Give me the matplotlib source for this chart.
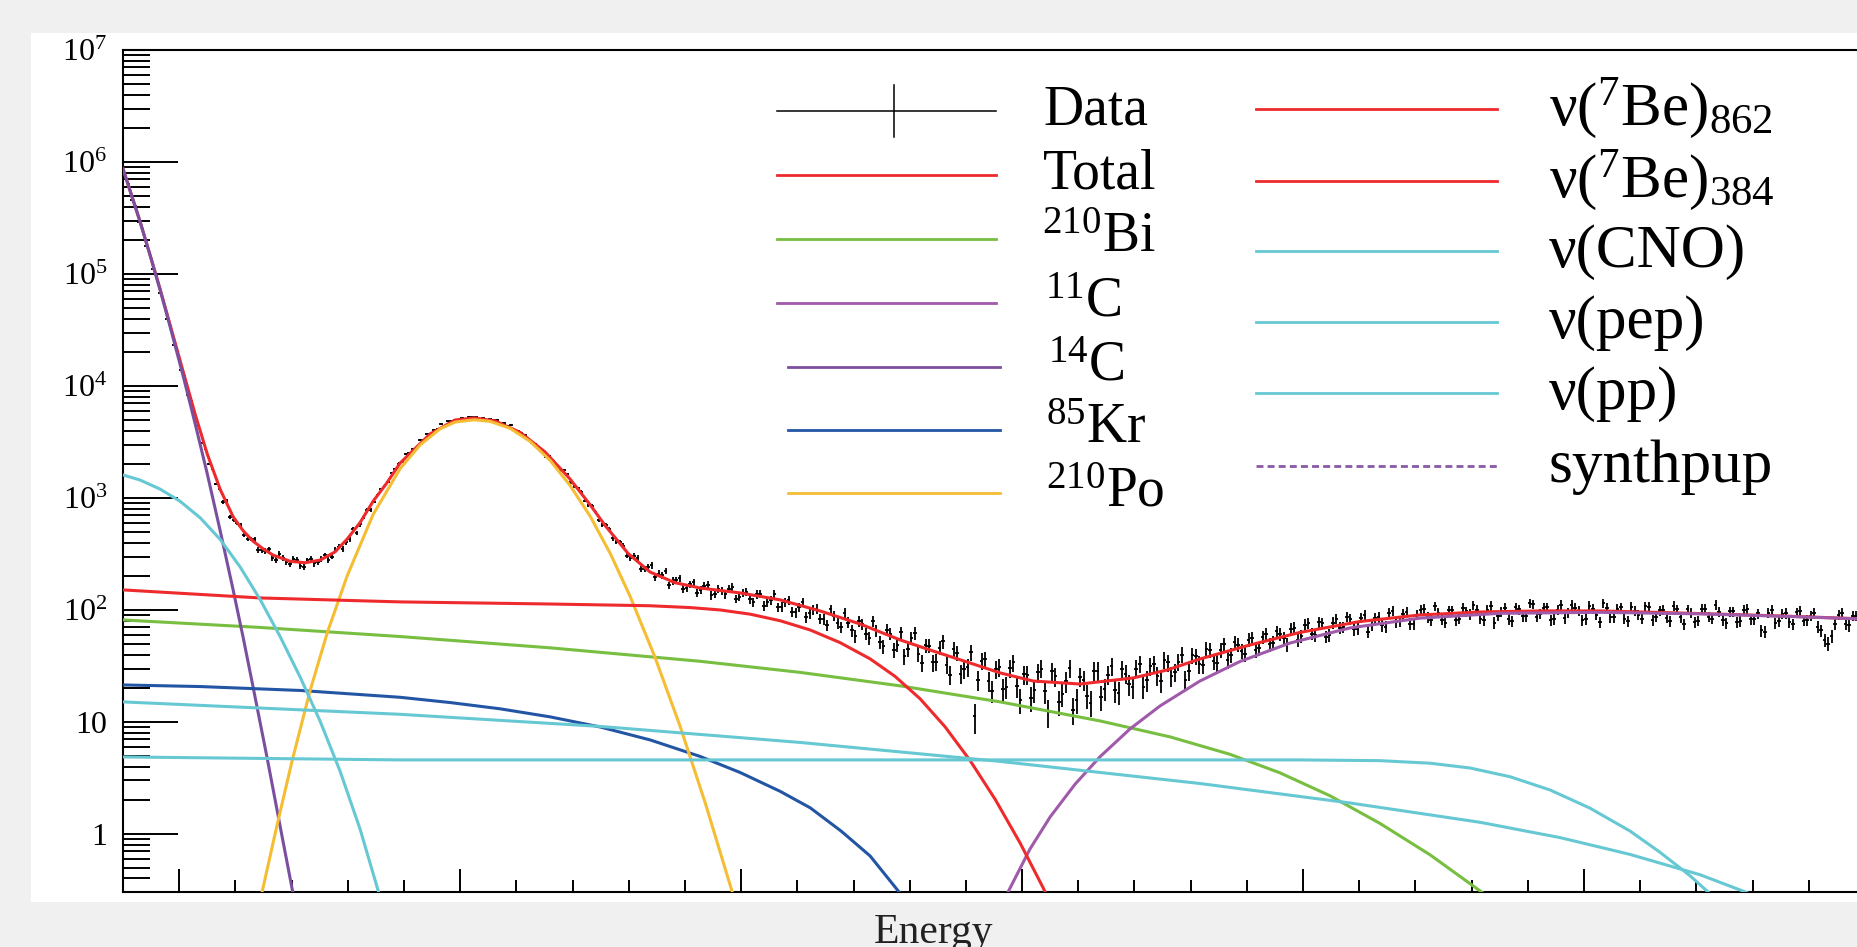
import numpy as np
import matplotlib
matplotlib.use("Agg")
import matplotlib.pyplot as plt
from matplotlib.patches import Rectangle
from matplotlib.ticker import FixedLocator, FixedFormatter, LogLocator, NullFormatter, MultipleLocator

plt.rcParams['font.family'] = ['Liberation Serif', 'DejaVu Serif']
plt.rcParams['mathtext.fontset'] = 'custom'
plt.rcParams['mathtext.rm'] = 'Liberation Serif'
plt.rcParams['mathtext.it'] = 'Liberation Serif:italic'
plt.rcParams['mathtext.bf'] = 'Liberation Serif:bold'
plt.rcParams['mathtext.default'] = 'regular'

W, H = 1858, 947

# ---------------- data ----------------
# histogram counts, bins of width 1.25 starting at 80; even and odd bins kept apart
bin_width = 1.25
counts_even_bins = [
    7.35e5, 4.58e5, 2.91e5, 1.79e5, 1.10e5, 6.76e4, 3.97e4, 2.34e4, 1.39e4, 8350,
    5040, 3120, 2000, 1330, 921, 677, 598, 468, 430, 343,
    336, 291, 316, 268, 285, 247, 277, 260, 285, 279,
    343, 351, 426, 487, 677, 781, 1070, 1280, 1680, 2030,
    2450, 2740, 3300, 3760, 4050, 4580, 4820, 4950, 5200, 5290,
    5230, 5150, 5050, 4980, 4670, 4490, 3960, 3650, 3080, 2770,
    2320, 2150, 1760, 1640, 1270, 1140, 861, 756, 574, 529,
    406, 375, 291, 292, 234, 250, 211, 224, 182, 191,
    158, 176, 152, 168, 139, 147, 153, 126, 142, 124,
    138, 109, 122, 106, 118, 95.6, 106, 85.7, 101, 83.4,
    73.0, 88.9, 70.2, 77.2, 58.5, 74.4, 56.6, 64.9, 47.4, 61.6,
    48.8, 38.8, 56.1, 40.3, 48.4, 34.0, 46.0, 32.3, 44.6, 27.0,
    31.0, 11.2, 35.3, 23.3, 29.6, 19.6, 30.4, 21.1, 26.7, 16.4,
    27.7, 18.9, 28.3, 15.1, 23.1, 12.9, 25.4, 17.1, 28.6, 16.7,
    26.3, 19.3, 29.6, 21.8, 29.9, 20.5, 31.4, 25.9, 35.8, 25.8,
    34.4, 23.8, 39.3, 32.7, 44.6, 34.9, 43.9, 35.8, 51.9, 43.2,
    54.3, 44.0, 57.3, 49.4, 64.4, 55.6, 68.1, 54.0, 73.6, 61.3,
    78.5, 57.8, 77.0, 69.6, 87.3, 67.0, 85.5, 63.8, 84.5, 72.7,
    94.4, 78.0, 91.4, 75.5, 90.2, 103, 80.9, 94.0, 77.2, 99.4,
    83.3, 97.0, 110, 83.3, 100, 77.0, 96.8, 82.2, 106, 88.1,
    115, 86.6, 104, 81.4, 100, 84.8, 111, 98.0, 83.1, 102,
    78.2, 104, 86.1, 106, 78.9, 98.8, 83.6, 107, 86.6, 99.8,
    79.4, 101, 74.3, 94.8, 80.2, 102, 83.3, 95.8, 76.1, 97.0,
    80.1, 102, 82.8, 65.6, 94.6, 76.5, 91.9, 77.6, 95.0, 80.2,
    88.6, 70.5, 53.8, 58.1, 90.9, 75.3, 88.6, 76.6]
counts_odd_bins = [
    6.30e5, 4.01e5, 2.52e5, 1.54e5, 9.54e4, 5.79e4, 3.43e4, 2.05e4, 1.22e4, 7310,
    4430, 2750, 1820, 1208, 940, 630, 568, 434, 427, 344,
    347, 278, 293, 256, 279, 244, 287, 266, 307, 300,
    367, 403, 525, 580, 778, 923, 1194, 1399, 1804, 2092,
    2501, 2767, 3260, 3674, 4140, 4305, 4870, 4910, 5083, 5265,
    5094, 4890, 4990, 4520, 4410, 3965, 3811, 3268, 3048, 2554,
    2356, 1896, 1760, 1380, 1218, 948, 850, 630, 573, 435,
    405, 306, 305, 234, 244, 196, 204, 166, 185, 155,
    170, 143, 165, 135, 153, 138, 160, 131, 144, 117,
    140, 118, 139, 107, 122, 95.2, 117, 93.5, 102, 82.4,
    101, 76.5, 93.6, 65.6, 80.1, 61.5, 79.1, 51.6, 66.3, 44.1,
    63.0, 45.0, 62.1, 33.9, 47.8, 34.2, 52.3, 26.4, 41.3, 29.5,
    41.7, 23.7, 36.3, 19.0, 31.0, 20.7, 34.0, 15.7, 26.4, 19.3,
    30.0, 12.3, 25.5, 17.8, 30.1, 15.8, 23.9, 14.9, 28.6, 19.7,
    31.4, 18.3, 27.0, 20.6, 32.8, 23.5, 33.0, 23.1, 34.0, 27.9,
    39.9, 28.3, 38.8, 32.4, 44.0, 33.7, 49.7, 39.6, 48.7, 40.4,
    56.0, 45.4, 61.4, 50.9, 60.8, 49.3, 69.6, 58.6, 76.8, 59.2,
    76.2, 59.9, 83.8, 70.1, 83.1, 68.1, 90.4, 73.3, 85.9, 71.1,
    98.4, 79.6, 95.4, 74.2, 100, 85.7, 108, 81.7, 99.0, 81.3,
    105, 91.4, 99.8, 81.6, 109, 88.9, 105, 79.1, 101, 88.1,
    113, 92.1, 106, 83.1, 111, 94.0, 104, 81.4, 109, 90.2,
    115, 86.1, 103, 83.6, 107, 90.2, 108, 80.7, 99.0, 85.3,
    109, 86.4, 101, 77.3, 103, 86.8, 111, 80.9, 97.0, 78.5,
    100, 82.8, 93.3, 64.1, 100, 79.8, 93.5, 74.2, 98.4, 81.4,
    93.5, 65.6, 49.9, 75.0, 93.5, 72.7, 88.9, 76.5]
data_counts = np.column_stack([counts_even_bins, counts_odd_bins]).ravel()
data_energy = 80 + bin_width / 2 + bin_width * np.arange(len(data_counts))

total_energy = [80, 86.1, 89.7, 93.2, 96.8, 101.4, 105.7, 110.0, 114.6, 119.2,
                122.8, 126.3, 129.9, 133.5, 139.5, 144.8, 150.2, 155.5, 159.8, 164.4,
                169.0, 173.7, 178.6, 189.3, 198.2, 205.0, 212.5, 221.4, 230.2, 239.1,
                246.3, 251.6, 259.8, 267.6, 276.5, 285.4, 299.6, 313.9, 328.1, 342.3,
                356.6, 368.3, 380.4, 392.2, 403.9, 420.6, 439.5, 451.6, 463.3, 481.1,
                498.9, 520.3, 541.6, 563.0, 584.3, 605.7, 627.0, 648.4, 669.8, 700]
total_counts = [8.75e5, 2.93e5, 1.46e5, 7.35e4, 3.49e4, 1.35e4, 5570, 2466, 1191, 679,
                508, 411, 351, 308, 272, 264, 279, 330, 430, 604,
                933, 1339, 2045, 3728, 4970, 5180, 4870, 3846, 2576, 1478,
                866, 567, 319, 218, 175, 157, 142, 123, 98.0, 75.0,
                54.0, 43.0, 34.3, 27.4, 23.2, 21.8, 24.7, 29.1, 36.5, 48.7,
                63.0, 78.9, 90.2, 95.9, 98.0, 98.0, 95.0, 91.7, 88.4, 83.1]

bi210_energy = [80, 128.8, 178.6, 232.0, 285.4, 321.0, 356.6, 392.2, 427.8, 452.7,
                474.0, 491.8, 509.6, 527.4, 545.2, 563.3, 568.3]
bi210_counts = [81.4, 69.8, 57.9, 45.9, 34.8, 27.7, 21.0, 15.1, 10.2, 7.35,
                5.14, 3.51, 2.19, 1.24, 0.651, 0.306, 0.247]

c11_energy = [392.9, 395.0, 402.8, 410.0, 418.9, 427.8, 438.4, 449.1, 463.3, 477.6,
              495.4, 516.7, 541.6, 570.1, 605.7, 641.3, 676.9, 700]
c11_counts = [0.237, 0.303, 0.733, 1.42, 2.79, 4.91, 8.66, 13.9, 23.2, 34.7,
              50.7, 69.1, 84.5, 93.3, 95.2, 92.3, 86.8, 82.8]

c14_energy = [80, 86.1, 89.7, 93.2, 96.8, 101.4, 105.7, 110.0, 114.6, 119.2,
              122.8, 126.3, 131.3, 135.9, 141.3]
c14_counts = [8.66e5, 2.91e5, 1.45e5, 7.2e4, 3.36e4, 1.23e4, 4580, 1640, 508, 151,
              56.2, 20.5, 4.77, 1.18, 0.232]

kr85_energy = [80, 107.5, 143.1, 178.6, 196.4, 214.2, 232.0, 249.8, 267.6, 285.4,
               299.6, 313.9, 324.6, 335.6, 345.9, 355.9, 358.4]
kr85_counts = [21.4, 20.7, 19.1, 16.6, 14.9, 13.1, 11.1, 9.02, 6.91, 4.92,
               3.54, 2.40, 1.71, 1.06, 0.636, 0.310, 0.257]

po210_energy = [128.5, 129.5, 134.9, 140.2, 146.6, 152.7, 159.8, 169.0, 178.6, 185.8,
                192.9, 198.2, 205.0, 210.7, 217.8, 224.9, 232.0, 239.1, 246.3, 253.4,
                260.5, 269.4, 278.3, 287.2, 296.8, 298.2]
po210_counts = [0.230, 0.303, 1.22, 4.51, 19.1, 62.5, 202, 710, 1823, 2985,
                4150, 4760, 4990, 4830, 4180, 3200, 2167, 1296, 685, 320,
                132, 37.5, 9.12, 1.90, 0.305, 0.230]

be7_energy = [80, 128.8, 178.6, 232.0, 267.6, 281.9, 292.5, 303.2, 313.9, 324.6,
              335.2, 345.9, 354.8, 363.7, 372.6, 381.5, 390.4, 399.3, 407.5, 410.0]
be7_counts = [151, 128, 118, 113, 109, 105, 100, 91.7, 80.1, 66.2,
              51.1, 36.6, 25.5, 16.1, 9.04, 4.52, 2.04, 0.829, 0.330, 0.245]

cno_energy = [80, 178.6, 249.8, 321.0, 392.2, 463.3, 516.7, 563.0, 591.5, 616.4,
              641.3, 657.3, 664.4]
cno_counts = [15.1, 11.7, 9.12, 6.56, 4.44, 2.82, 1.89, 1.27, 0.927, 0.656,
              0.432, 0.304, 0.253]

pep_energy = [80, 178.6, 498.9, 527.4, 545.2, 559.4, 573.7, 587.9, 602.1, 616.4,
              627.0, 637.7, 646.6]
pep_counts = [4.87, 4.58, 4.58, 4.51, 4.28, 3.88, 3.24, 2.47, 1.70, 1.06,
              0.687, 0.424, 0.267]

pp_energy = [80, 86.1, 93.2, 100.4, 107.5, 114.6, 121.7, 128.8, 135.9, 143.1,
             150.2, 157.3, 164.4, 170.8, 172.2]
pp_counts = [1604, 1445, 1200, 931, 664, 426, 242, 124, 58.0, 25.0,
             10.1, 3.61, 1.10, 0.312, 0.232]

y_tick_values = [1, 10, 1e2, 1e3, 1e4, 1e5, 1e6, 1e7]
y_tick_labels = ['1', '10', '$10^{2}$', '$10^{3}$', '$10^{4}$', '$10^{5}$', '$10^{6}$', '$10^{7}$']

red = '#ee2a2d'
green = '#78be41'
c11_col = '#a05aaa'
c14_col = '#7b4f9f'
kr_col = '#2355a5'
po_col = '#f5bd33'
cyan = '#66c8d3'
lw = 2.2

# ---------------- figure ----------------
fig = plt.figure(figsize=(W / 100, H / 100), dpi=100, facecolor='#f0f0f0')
fig.patches.append(Rectangle((31 / W, 1 - 902 / H), 1.0, (902 - 33) / H,
                             transform=fig.transFigure, facecolor='white',
                             edgecolor='none', zorder=-5))

ax = fig.add_axes([123 / W, 1 - 892 / H, (1865 - 123) / W, (892 - 50) / H])
ax.set_yscale('log')
ax.set_xlim(80, 700)
ax.set_ylim(0.303, 1e7)

ax.errorbar(data_energy, data_counts, xerr=bin_width / 2, yerr=np.sqrt(data_counts),
            fmt='none', ecolor='black', elinewidth=1.3, capsize=0, zorder=2)

ax.plot(total_energy, total_counts, color=red, lw=lw, zorder=3)
ax.plot(bi210_energy, bi210_counts, color=green, lw=lw, zorder=3)
ax.plot(c11_energy, c11_counts, color=c11_col, lw=lw, zorder=3)
ax.plot(c14_energy, c14_counts, color=c14_col, lw=lw, zorder=3)
ax.plot(kr85_energy, kr85_counts, color=kr_col, lw=lw, zorder=3)
ax.plot(po210_energy, po210_counts, color=po_col, lw=lw, zorder=3)
ax.plot(be7_energy, be7_counts, color=red, lw=lw, zorder=3)
ax.plot(cno_energy, cno_counts, color=cyan, lw=lw, zorder=3)
ax.plot(pep_energy, pep_counts, color=cyan, lw=lw, zorder=3)
ax.plot(pp_energy, pp_counts, color=cyan, lw=lw, zorder=3)

# axis styling (ROOT look)
ax.spines['right'].set_visible(False)
for s in ['left', 'bottom', 'top']:
    ax.spines[s].set_linewidth(1.5)
ax.yaxis.set_major_locator(FixedLocator(y_tick_values))
ax.yaxis.set_major_formatter(FixedFormatter(y_tick_labels))
ax.yaxis.set_minor_locator(LogLocator(base=10, subs=np.arange(2, 10), numticks=30))
ax.yaxis.set_minor_formatter(NullFormatter())
ax.xaxis.set_major_locator(MultipleLocator(100))
ax.xaxis.set_minor_locator(MultipleLocator(20))
ax.tick_params(axis='y', which='major', direction='in', length=39.6, width=1.4,
               labelsize=23, pad=11.5)
ax.tick_params(axis='y', which='minor', direction='in', length=19.5, width=1.4)
ax.tick_params(axis='x', which='major', direction='in', length=16.6, width=1.4,
               labelbottom=False)
ax.tick_params(axis='x', which='minor', direction='in', length=8.6, width=1.4)

# ---------------- overlay for legend and axis title (pixel coords) ----------------
ov = fig.add_axes([0, 0, 1, 1])
ov.set_xlim(0, W)
ov.set_ylim(H, 0)
ov.axis('off')
ov.patch.set_alpha(0)

left_rows = [111, 175, 239, 303, 367, 430, 493]
left_labels = ['Data', 'Total', '$^{210}$Bi', '$^{11}$C', '$^{14}$C', '$^{85}$Kr', '$^{210}$Po']
left_colors = ['black', red, green, c11_col, c14_col, kr_col, po_col]
left_text_x = [1043, 1043, 1042, 1045, 1048, 1046, 1046]
for j, (yy, lab, col) in enumerate(zip(left_rows, left_labels, left_colors)):
    x0, x1 = (777, 996) if j < 4 else (788, 1000)
    if j == 0:
        ov.plot([x0, x1], [yy, yy], color='black', lw=1.1)
        ov.plot([894, 894], [85, 137], color='black', lw=1.1)
    else:
        ov.plot([x0, x1], [yy, yy], color=col, lw=2.0)
    ov.text(left_text_x[j], yy + 13, lab, fontsize=40, va='baseline', ha='left')

right_rows = [109, 181, 251, 322, 393, 466]
right_labels = ['ν($^{7}$Be)$_{862}$', 'ν($^{7}$Be)$_{384}$', 'ν(CNO)', 'ν(pep)', 'ν(pp)', 'synthpup']
right_colors = [red, red, cyan, cyan, cyan, '#8a58a6']
for j, (yy, lab, col) in enumerate(zip(right_rows, right_labels, right_colors)):
    ls = (0, (2.5, 1.5)) if lab == 'synthpup' else '-'
    ov.plot([1256, 1497], [yy, yy], color=col, lw=2.0, linestyle=ls)
    ov.text(1549, yy + 16, lab, fontsize=44, va='baseline', ha='left')

ov.text(934, 943, 'Energy', fontsize=30, color='#222222', ha='center', va='baseline')

fig.savefig('out.png', dpi=100, facecolor=fig.get_facecolor())
